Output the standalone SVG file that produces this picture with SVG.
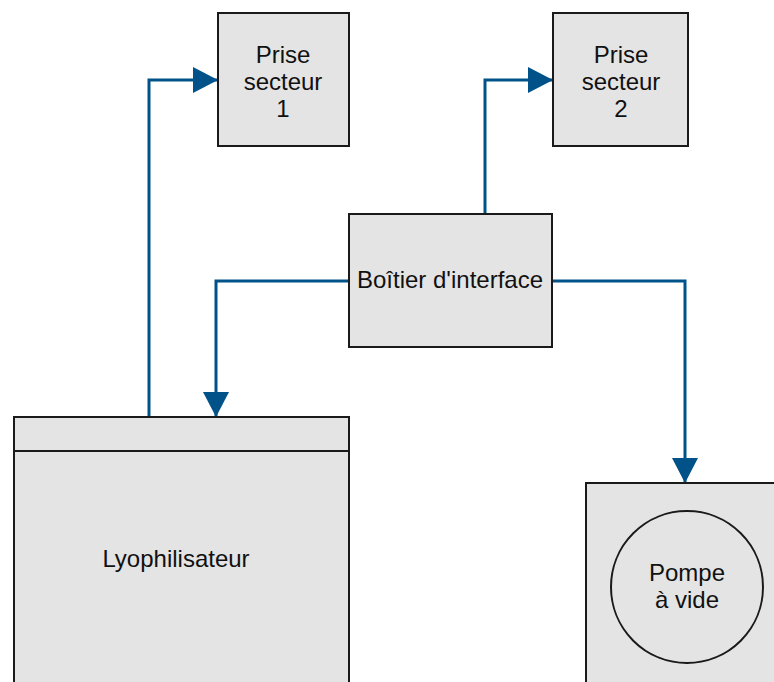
<svg xmlns="http://www.w3.org/2000/svg" width="774" height="682" viewBox="0 0 774 682">
<style>
.box{fill:#e4e4e4;stroke:#1a1a1a;stroke-width:2}
.t{font-family:"Liberation Sans",Arial,sans-serif;font-size:24px;fill:#111;text-anchor:middle}
.c{fill:none;stroke:#005289;stroke-width:3}
</style>
<defs>
<marker id="ah" markerUnits="userSpaceOnUse" markerWidth="26" markerHeight="28" refX="25" refY="14" orient="auto" viewBox="0 0 26 28">
<path d="M0,1 L25,14 L0,27 Z" fill="#005289"/>
</marker>
</defs>
<rect width="774" height="682" fill="#fff"/>
<g id="connectors">
<path class="c" d="M149,417 V80 H218" marker-end="url(#ah)"/>
<path class="c" d="M485,214 V80 H553" marker-end="url(#ah)"/>
<path class="c" d="M349,281 H216 V417" marker-end="url(#ah)"/>
<path class="c" d="M552,281 H685 V483" marker-end="url(#ah)"/>
</g>
<g id="prise1">
<rect class="box" x="218" y="13" width="131" height="133"/>
<text class="t" x="283" y="63">Prise</text>
<text class="t" x="283" y="90">secteur</text>
<text class="t" x="283" y="117">1</text>
</g>
<g id="prise2">
<rect class="box" x="553" y="13" width="135" height="133"/>
<text class="t" x="621" y="63">Prise</text>
<text class="t" x="621" y="90">secteur</text>
<text class="t" x="621" y="117">2</text>
</g>
<g id="boitier">
<rect class="box" x="349" y="214" width="203" height="133"/>
<text class="t" x="450" y="288">Boîtier d'interface</text>
</g>
<g id="lyophilisateur">
<rect class="box" x="14" y="417" width="335" height="280"/>
<line x1="14" y1="451" x2="349" y2="451" stroke="#1a1a1a" stroke-width="2"/>
<text class="t" x="176" y="567">Lyophilisateur</text>
</g>
<g id="pompe">
<rect class="box" x="586" y="483" width="200" height="220"/>
<circle cx="687" cy="587" r="76" fill="none" stroke="#1a1a1a" stroke-width="2"/>
<text class="t" x="687" y="581">Pompe</text>
<text class="t" x="687" y="608">à vide</text>
</g>
</svg>
